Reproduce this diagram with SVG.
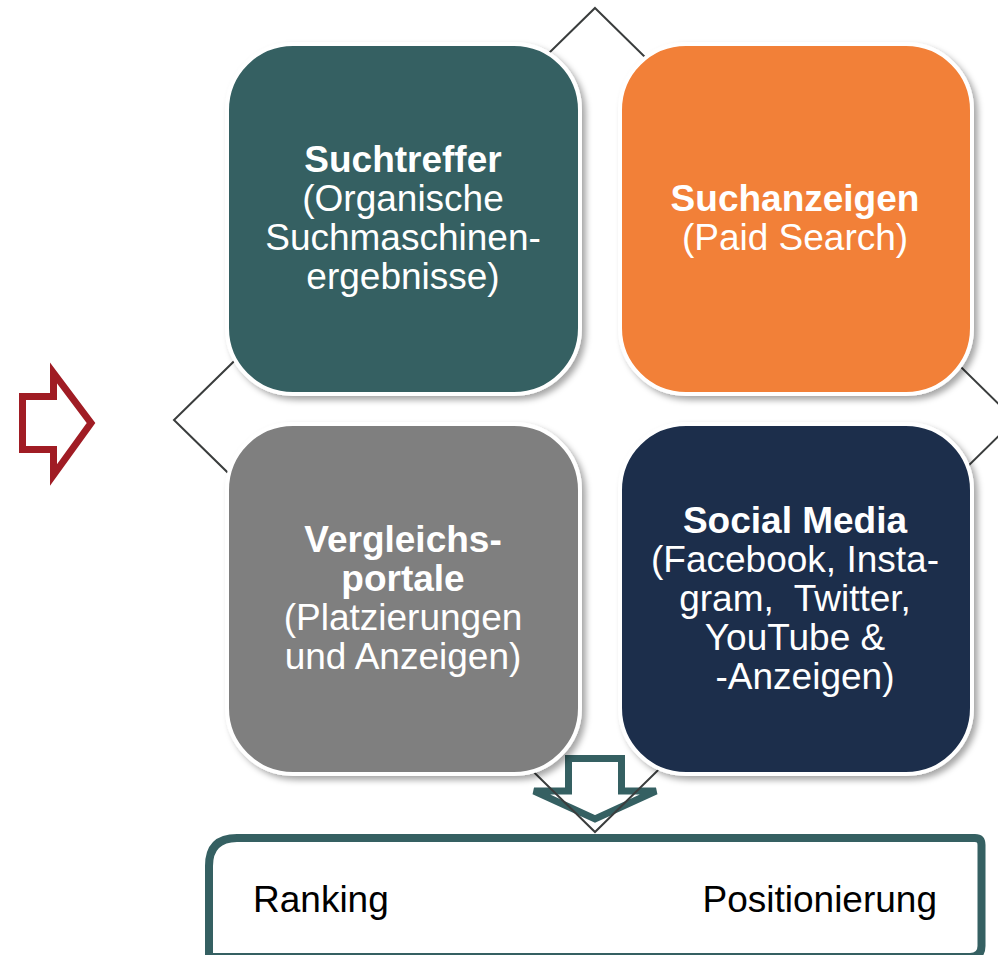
<svg xmlns="http://www.w3.org/2000/svg" width="998" height="955" viewBox="0 0 998 955">
<defs>
<filter id="sh" x="-10%" y="-10%" width="125%" height="125%">
<feDropShadow dx="4" dy="4" stdDeviation="3" flood-color="#000" flood-opacity="0.35"/>
</filter>
<style>
.box{stroke:#fff;stroke-width:4;filter:url(#sh)}
.t{font-family:"Liberation Sans",Arial,sans-serif;font-size:37px;fill:#fff;text-anchor:middle}
.b{font-weight:bold}
.bt{font-family:"Liberation Sans",Arial,sans-serif;font-size:37px;fill:#000}
.conn{fill:none;stroke:#3a3d3d;stroke-width:2}
</style>
</defs>
<rect width="998" height="955" fill="#fff"/>
<g id="arrow-left">
<path d="M22.5,396.5 H53.5 V373 L91,423 L53.5,475 V449.5 H22.5 Z" fill="#fff" stroke="#A01C24" stroke-width="7" stroke-linejoin="miter"/>
</g>
<g id="arrow-down">
<path d="M568.5,758.5 H621.5 V791 H656 L595,819 L534,791 H568.5 Z" fill="#fff" stroke="#356062" stroke-width="7" stroke-linejoin="miter"/>
</g>
<g id="connectors">
<polygon class="conn" points="595,8 1015,420 595,832 174,420"/>
</g>
<g id="suchtreffer">
<rect class="box" x="227" y="44" width="353" height="350" rx="66" fill="#356062"/>
<text class="t b" x="403" y="172">Suchtreffer</text>
<text class="t" x="403" y="211">(Organische</text>
<text class="t" x="403" y="250">Suchmaschinen-</text>
<text class="t" x="403" y="289">ergebnisse)</text>
</g>
<g id="suchanzeigen">
<rect class="box" x="620" y="44" width="352" height="350" rx="66" fill="#F28037"/>
<text class="t b" x="795" y="211">Suchanzeigen</text>
<text class="t" x="795" y="250">(Paid Search)</text>
</g>
<g id="vergleichsportale">
<rect class="box" x="227" y="424" width="353" height="350" rx="66" fill="#7F7F7F"/>
<text class="t b" x="403" y="552">Vergleichs-</text>
<text class="t b" x="403" y="591">portale</text>
<text class="t" x="403" y="630">(Platzierungen</text>
<text class="t" x="403" y="669">und Anzeigen)</text>
</g>
<g id="socialmedia">
<rect class="box" x="620" y="424" width="352" height="350" rx="66" fill="#1C2F4C"/>
<text class="t b" x="795" y="533">Social Media</text>
<text class="t" x="795" y="572">(Facebook, Insta-</text>
<text class="t" x="795" y="611" xml:space="preserve">gram,  Twitter,</text>
<text class="t" x="795" y="650">YouTube &amp;</text>
<text class="t" x="805" y="689">-Anzeigen)</text>
</g>
<g id="ranking-box">
<path d="M209,962 V866 Q209,838 237,838 H975 Q981.5,838 981.5,845 V946 Q981.5,957 970,957 H209" fill="#fff" stroke="#356062" stroke-width="8"/>
<text class="bt" x="253" y="912">Ranking</text>
<text class="bt" x="937" y="912" text-anchor="end">Positionierung</text>
</g>
</svg>
